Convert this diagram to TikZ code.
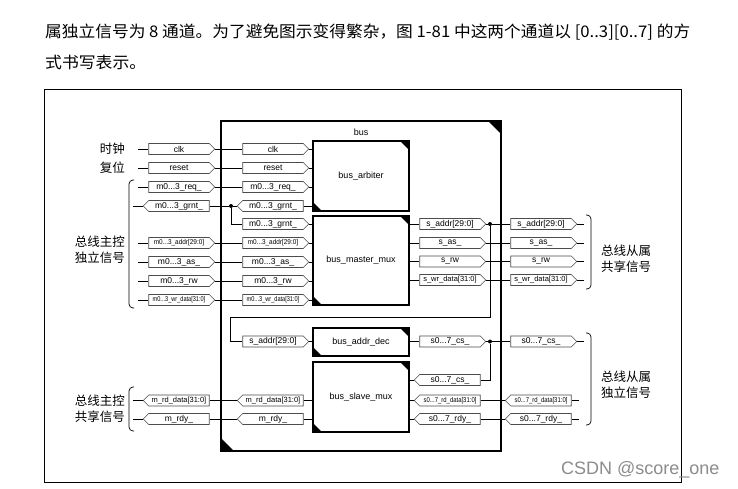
\documentclass[tikz,border=0pt]{standalone}
\usepackage{fontspec}
\usepackage{graphicx}
\setmainfont{Liberation Sans}
\newfontfamily\cjk{Noto Sans CJK SC}
\usetikzlibrary{shapes.symbols}
\newcommand{\narrowtxt}[2]{\scalebox{#1}[1]{#2}}
\begin{document}
\begin{tikzpicture}[x=1pt,y=-1pt,
  tagbase/.style={signal, signal pointer angle=90, draw=black!70, fill=white, line width=0.6pt,
    minimum width=66pt, minimum height=11pt, inner sep=0pt, font=\fontsize{8.5}{9}\selectfont},
  tagR/.style={tagbase, signal to=east},
  tagL/.style={tagbase, signal to=west},
  smalltxt/.style={font=\fontsize{7}{8}\selectfont},
  blk/.style={draw=black, line width=1.1pt, minimum width=96pt, inner sep=0pt, font=\fontsize{9}{10}\selectfont},
  wire/.style={draw=black, line width=0.7pt},
  jdot/.style={circle, fill=black, inner sep=0pt, minimum size=4pt},
  lbl/.style={font=\cjk\fontsize{12.5}{16}\selectfont, inner sep=0pt, anchor=east, align=right},
  rlbl/.style={font=\cjk\fontsize{12.5}{16}\selectfont, inner sep=0pt, anchor=west, align=left},
  brk/.style={draw=black, line width=0.7pt, rounded corners=4pt},
  corner/.style={fill=black}
]
\useasboundingbox (0,0) rectangle (738,489);
\fill[white] (0,0) rectangle (738,489);

% heading text
\node[anchor=west, inner sep=0pt, font=\cjk\fontsize{16}{18}\selectfont] (t1) at (45,32)
  {\resizebox{645pt}{\height}{属独立信号为 8 通道。为了避免图示变得繁杂，图 1-81 中这两个通道以 [0..3][0..7] 的方}};
\node[anchor=west, inner sep=0pt, font=\cjk\fontsize{16}{18}\selectfont] (t2) at (45,62)
  {\resizebox{101pt}{\height}{式书写表示。}};

% outer frame
\node[draw=black, line width=0.9pt, minimum width=637pt, minimum height=393pt, inner sep=0pt] (frame) at (362.5,285.5) {};

% bus box
\node[draw=black, line width=1.1pt, minimum width=280pt, minimum height=330pt, inner sep=0pt] (bus) at (361,286) {};
\fill[corner] (bus.north east) -- ++(-14,0) -- ++(14,14) -- cycle;
\fill[corner] (bus.south west) -- ++(14,0) -- ++(-14,-14) -- cycle;
\node[font=\fontsize{9}{10}\selectfont] (buslbl) at (361,132) {bus};

% sub blocks
\node[blk, minimum height=70pt] (arb) at (361,176) {bus\_arbiter};
\node[blk, minimum height=89pt] (mmux) at (361,260.5) {bus\_master\_mux};
\node[blk, minimum height=28pt] (dec) at (361,342) {bus\_addr\_dec};
\node[blk, minimum height=70pt] (smux) at (361,397) {bus\_slave\_mux};
\foreach \b in {arb,mmux,dec,smux}{
  \fill[corner] (\b.north east) -- ++(-10,0) -- ++(10,10) -- cycle;
  \fill[corner] (\b.south west) -- ++(10,0) -- ++(-10,-10) -- cycle;
}

% outer left tags
\node[tagR] (oClk) at (179,149) {clk};
\node[tagR] (oRst) at (179,168) {reset};
\node[tagR] (oReq) at (179,187) {m0...3\_req\_};
\node[tagL] (oGnt) at (179,206) {m0...3\_grnt\_};
\node[tagR, smalltxt] (oAdr) at (179,243) {\narrowtxt{0.92}{m0...3\_addr[29:0]}};
\node[tagR] (oAs) at (179,262) {m0...3\_as\_};
\node[tagR] (oRw) at (179,281) {m0...3\_rw};
\node[tagR, smalltxt] (oWd) at (179,300) {\narrowtxt{0.8}{m0...3\_wr\_data[31:0]}};
\node[tagL, font=\fontsize{7.5}{8}\selectfont] (oMrd) at (179,400.5) {m\_rd\_data[31:0]};
\node[tagL] (oMry) at (179,419) {m\_rdy\_};

% inner left tags
\node[tagR] (iClk) at (273,149) {clk};
\node[tagR] (iRst) at (273,168) {reset};
\node[tagR] (iReq) at (273,187) {m0...3\_req\_};
\node[tagL] (iGnt) at (273,206) {m0...3\_grnt\_};
\node[tagR] (iGnt2) at (273,224) {m0...3\_grnt\_};
\node[tagR, smalltxt] (iAdr) at (273,243) {\narrowtxt{0.92}{m0...3\_addr[29:0]}};
\node[tagR] (iAs) at (273,262) {m0...3\_as\_};
\node[tagR] (iRw) at (273,281) {m0...3\_rw};
\node[tagR, smalltxt] (iWd) at (273,300) {\narrowtxt{0.8}{m0...3\_wr\_data[31:0]}};
\node[tagR, font=\fontsize{8.5}{9}\selectfont] (iSad) at (273,341.5) {s\_addr[29:0]};
\node[tagL, font=\fontsize{7.5}{8}\selectfont] (iMrd) at (273,400.5) {m\_rd\_data[31:0]};
\node[tagL] (iMry) at (273,419) {m\_rdy\_};

% inner right tags
\node[tagR, font=\fontsize{8.5}{9}\selectfont] (tSad) at (450,224) {s\_addr[29:0]};
\node[tagR] (tSas) at (450,243) {s\_as\_};
\node[tagR] (tSrw) at (450,261.5) {s\_rw};
\node[tagR, font=\fontsize{7.5}{8}\selectfont] (tSwd) at (450,280) {s\_wr\_data[31:0]};
\node[tagR] (tCs) at (450,341.5) {s0...7\_cs\_};
\node[tagL] (tCsi) at (450,380) {s0...7\_cs\_};
\node[tagL, smalltxt] (tRd) at (450,400.5) {\narrowtxt{0.85}{s0...7\_rd\_data[31:0]}};
\node[tagL] (tRy) at (450,419) {s0...7\_rdy\_};

% outer right tags
\node[tagR, font=\fontsize{8.5}{9}\selectfont] (rSad) at (541,224) {s\_addr[29:0]};
\node[tagR] (rSas) at (541,243) {s\_as\_};
\node[tagR] (rSrw) at (541,261.5) {s\_rw};
\node[tagR, font=\fontsize{7.5}{8}\selectfont] (rSwd) at (541,280) {s\_wr\_data[31:0]};
\node[tagR] (rCs) at (541,341.5) {s0...7\_cs\_};
\node[tagL, smalltxt] (rRd) at (541,400.5) {\narrowtxt{0.85}{s0...7\_rd\_data[31:0]}};
\node[tagL] (rRy) at (541,419) {s0...7\_rdy\_};

% junctions
\node[jdot] (dG) at (231,206) {};
\node[jdot] (dS) at (490,224) {};
\node[jdot] (dC) at (490,341.5) {};
\coordinate (k1) at (490,317);
\coordinate (k2) at (230,317);

% left lead lines
\foreach \n in {oClk,oRst,oReq,oGnt,oAdr,oAs,oRw,oWd,oMrd,oMry}{
  \coordinate (L\n) at ([xshift=-10pt]\n.west);
  \draw[wire] (L\n) -- (\n.west);
}
% right lead lines
\foreach \n in {rSad,rSas,rSrw,rSwd,rCs,rRd,rRy}{
  \coordinate (R\n) at ([xshift=7pt]\n.east);
  \draw[wire] (\n.east) -- (R\n);
}

% outer-left to inner-left
\foreach \a/\b in {oClk/iClk,oRst/iRst,oReq/iReq,oAdr/iAdr,oAs/iAs,oRw/iRw,oWd/iWd,oMrd/iMrd,oMry/iMry}{
  \draw[wire] (\a.east) -- (\b.west);
}
\draw[wire] (oGnt.east) -- (dG) -- (iGnt.west);
\draw[wire] (dG) |- (iGnt2.west);

% inner-left to blocks
\foreach \t in {iClk,iRst,iReq,iGnt}{ \draw[wire] (\t.east) -- (arb.west |- \t); }
\foreach \t in {iGnt2,iAdr,iAs,iRw,iWd}{ \draw[wire] (\t.east) -- (mmux.west |- \t); }
\draw[wire] (iSad.east) -- (dec.west |- iSad);
\foreach \t in {iMrd,iMry}{ \draw[wire] (\t.east) -- (smux.west |- \t); }

% blocks to inner-right
\foreach \t in {tSad,tSas,tSrw,tSwd}{ \draw[wire] (mmux.east |- \t) -- (\t.west); }
\draw[wire] (dec.east |- tCs) -- (tCs.west);
\foreach \t in {tCsi,tRd,tRy}{ \draw[wire] (smux.east |- \t) -- (\t.west); }

% inner-right to outer-right
\draw[wire] (tSad.east) -- (dS) -- (rSad.west);
\foreach \a/\b in {tSas/rSas,tSrw/rSrw,tSwd/rSwd,tRd/rRd,tRy/rRy}{ \draw[wire] (\a.east) -- (\b.west); }
\draw[wire] (tCs.east) -- (dC) -- (rCs.west);
\draw[wire] (dC) |- (tCsi.east);
\draw[wire] (dS) -- (k1) -- (k2) |- (iSad.west);

% brackets
\draw[brk] (134,180) -- (129,180) -- (129,308) -- (134,308);
\draw[brk] (134,387) -- (129,387) -- (129,431) -- (134,431);
\draw[brk] (586,215) -- (591,215) -- (591,289) -- (586,289);
\draw[brk] (586,333) -- (591,333) -- (591,425) -- (586,425);

% side labels
\node[lbl] (lclk) at (125,149) {时钟};
\node[lbl] (lrst) at (125,168) {复位};
\node[lbl] (lmi) at (125,250) {总线主控\\独立信号};
\node[lbl] (lms) at (125,408.5) {总线主控\\共享信号};
\node[rlbl] (lss) at (601,259) {总线从属\\共享信号};
\node[rlbl] (lsi) at (601,385) {总线从属\\独立信号};

% watermark
\node[anchor=west, inner sep=0pt, font=\fontsize{18}{20}\selectfont, text=black!45] (wm) at (561,470) {CSDN @score\_one};
\end{tikzpicture}
\end{document}
